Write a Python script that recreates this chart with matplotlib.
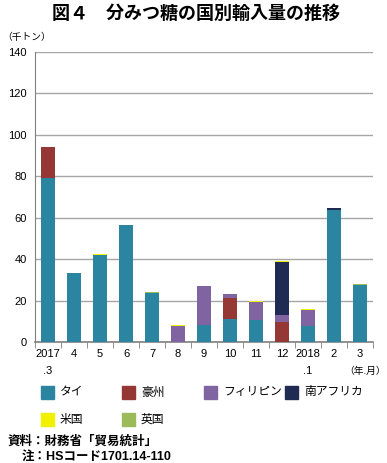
import matplotlib
matplotlib.use("Agg")
import matplotlib.pyplot as plt
import numpy as np
from matplotlib.patches import Rectangle

plt.rcParams['font.family'] = ['Liberation Sans', 'Noto Sans CJK JP']

categories = ["2017\n.3", "4", "5", "6", "7", "8", "9", "10", "11", "12", "2018\n.1", "2", "3"]
thai      = [79.0, 33.5, 42.2, 56.5, 23.7, 0.0, 8.0, 11.1, 10.8, 0.0, 7.9, 63.6, 27.4]
australia = [15.0, 0.0, 0.0, 0.0, 0.0, 0.0, 0.0, 10.3, 0.0, 9.8, 0.0, 0.0, 0.0]
philippines = [0.0, 0.0, 0.0, 0.0, 0.0, 7.9, 19.0, 1.8, 8.7, 3.1, 7.6, 0.0, 0.0]
south_africa = [0.0, 0.0, 0.0, 0.0, 0.0, 0.0, 0.0, 0.0, 0.0, 25.9, 0.0, 1.0, 0.0]
usa = [0.3, 0.0, 0.3, 0.0, 0.0, 0.3, 0.0, 0.0, 0.3, 0.3, 0.3, 0.0, 0.3]
uk  = [0.0, 0.0, 0.0, 0.0, 0.5, 0.0, 0.0, 0.0, 0.0, 0.0, 0.0, 0.0, 0.2]

series_names = ["タイ", "豪州", "フィリピン", "南アフリカ", "米国", "英国"]
series_vals = [thai, australia, philippines, south_africa, usa, uk]
colors = ["#2B85A0", "#953735", "#8064A2", "#1F2B52", "#F0F000", "#9BBB59"]

fig = plt.figure(figsize=(3.87, 4.63), dpi=100)
ax = fig.add_axes([35/387, 1-342/463, (373-35)/387, (342-52)/463])

x = np.arange(len(categories))
bottom = np.zeros(len(categories))
for name, vals, c in zip(series_names, series_vals, colors):
    v = np.array(vals)
    ax.bar(x, v, bottom=bottom, width=0.56, color=c, edgecolor='none', label=name, zorder=3)
    bottom += v

ax.set_xlim(-0.5, len(categories)-0.5)
ax.set_ylim(0, 140)
ax.set_yticks(np.arange(0, 141, 20))
ax.yaxis.grid(True, color='#A6A6A6', linewidth=1.0, zorder=0)
ax.tick_params(axis='y', length=0, labelsize=8, pad=6)
ax.set_xticks(x)
ax.set_xticklabels(categories, fontsize=8, linespacing=1.9, va='top')
ax.tick_params(axis='x', length=0, pad=5)
# category boundary ticks
ax.set_xticks(np.arange(-0.5, len(categories), 1.0), minor=True)
ax.tick_params(axis='x', which='minor', length=4, color='#808080', direction='out')
for s in ['top', 'right']:
    ax.spines[s].set_visible(False)
ax.spines['left'].set_color('#808080')
ax.spines['bottom'].set_color('#808080')
ax.spines['bottom'].set_linewidth(1.2)

fig.text(196/387, 1-13/463, "図４　分みつ糖の国別輸入量の推移", ha='center', va='center',
         fontsize=13, fontweight='bold', family=['Noto Sans CJK JP'])
fig.text(2/387, 1-37/463, "（千トン）", ha='left', va='center', fontsize=7)
fig.text(386/387, 1-371/463, "（年.月）", ha='right', va='center', fontsize=7)

# legend
leg_cols_x = [41, 122, 204, 285]
leg_rows_y = [392, 419]
for i, (name, c) in enumerate(zip(series_names, colors)):
    r, col = divmod(i, 4)
    px = leg_cols_x[col]
    py = leg_rows_y[r]
    fig.patches.append(Rectangle((px/387, 1-(py+7)/463), 13/387, 13/463,
                                 transform=fig.transFigure, color=c, figure=fig))
    fig.text((px+19)/387, 1-(py+0.5)/463, name, ha='left', va='center', fontsize=8.5)

fig.text(8/387, 1-442/463, "資料：財務省「貿易統計」", ha='left', va='center', fontsize=9, fontweight='bold')
fig.text(22/387, 1-458/463, "注：HSコード1701.14-110", ha='left', va='center', fontsize=9, fontweight='bold')

fig.savefig("out.png", dpi=100)
